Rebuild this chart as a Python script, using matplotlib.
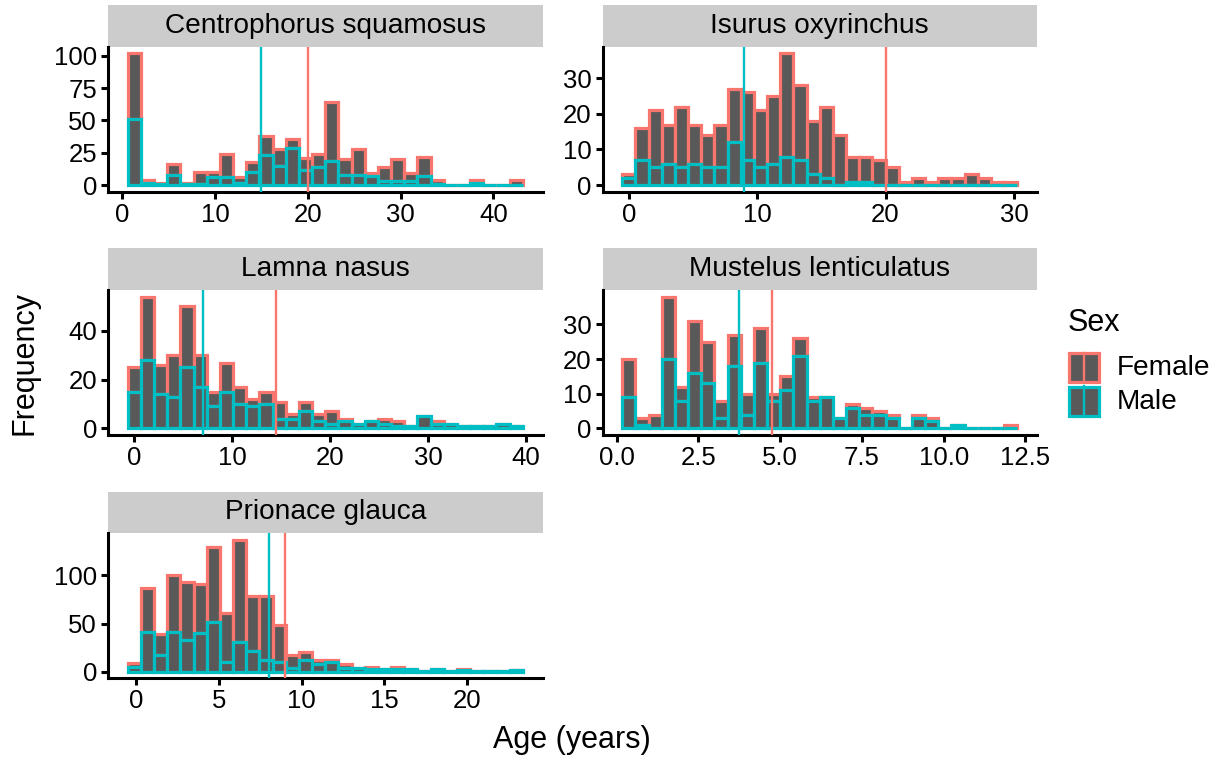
import numpy as np
import matplotlib.pyplot as plt
from matplotlib.patches import Rectangle
from matplotlib.lines import Line2D
from matplotlib.ticker import FixedLocator, FuncFormatter

plt.rcParams['font.family'] = ['Liberation Sans', 'DejaVu Sans']

# per-species age histograms, 30 bins each (counts stacked: male at the bottom)
species = ["Centrophorus squamosus", "Isurus oxyrinchus", "Lamna nasus",
           "Mustelus lenticulatus", "Prionace glauca"]

# centre of the first and last bin (years)
age_first = [1.32, 0.0, 0.0, 0.37, -0.12]
age_last = [42.46, 29.75, 39.0, 12.05, 22.98]

female_counts = [
    [51, 2, 1, 8, 1, 9, 4, 18, 4, 8, 15, 13, 7, 9, 10, 45, 12, 20, 2, 11, 17, 6, 15, 3, 0, 0, 2, 0, 0, 4],
    [1, 9, 16, 11, 17, 11, 9, 12, 15, 19, 16, 19, 29, 21, 15, 20, 14, 7, 7, 7, 5, 1, 2, 1, 2, 2, 3, 2, 1, 1],
    [10, 26, 12, 17, 25, 13, 6, 12, 7, 3, 5, 7, 2, 4, 3, 5, 1, 0, 0, 2, 2, 0, 0, 1, 0, 0, 0, 0, 0, 0],
    [11, 2, 4, 18, 4, 15, 12, 5, 9, 6, 10, 2, 4, 5, 1, 0, 0, 1, 2, 1, 1, 0, 1, 1, 0, 0, 0, 0, 0, 1],
    [4, 46, 22, 60, 60, 51, 78, 51, 106, 57, 67, 39, 13, 9, 4, 2, 4, 0, 2, 0, 2, 0, 0, 0, 0, 1, 0, 0, 0, 0],
]
male_counts = [
    [51, 2, 1, 8, 1, 1, 6, 6, 2, 10, 23, 15, 29, 12, 14, 19, 8, 8, 7, 3, 3, 3, 7, 1, 0, 0, 2, 0, 0, 0],
    [2, 7, 5, 6, 5, 6, 5, 5, 12, 7, 5, 6, 8, 7, 3, 2, 0, 1, 1, 0, 0, 0, 0, 0, 0, 0, 0, 0, 0, 0],
    [15, 28, 14, 13, 25, 17, 9, 15, 10, 9, 10, 4, 4, 7, 3, 2, 3, 2, 3, 2, 1, 1, 5, 2, 2, 1, 1, 1, 2, 1],
    [9, 1, 0, 20, 8, 16, 13, 3, 18, 4, 19, 8, 11, 21, 8, 9, 3, 6, 4, 4, 3, 0, 3, 2, 0, 1, 0, 0, 0, 0],
    [5, 41, 17, 41, 33, 40, 52, 10, 31, 22, 12, 10, 4, 12, 8, 10, 4, 4, 3, 3, 3, 3, 1, 3, 1, 2, 1, 1, 1, 2],
]

female_median = [20, 20, 14.5, 4.75, 9]
male_median = [15, 9, 7, 3.75, 8]

x_ticks = [[0, 10, 20, 30, 40], [0, 10, 20, 30], [0, 10, 20, 30, 40],
           [0, 2.5, 5, 7.5, 10, 12.5], [0, 5, 10, 15, 20]]
y_ticks = [[0, 25, 50, 75, 100], [0, 10, 20, 30], [0, 20, 40],
           [0, 10, 20, 30], [0, 50, 100]]

FEMALE = "#F8766D"
MALE = "#00BFC4"
FILL = "#595959"
STRIP = "#CCCCCC"

W, H = 1214, 758
fig = plt.figure(figsize=(W / 100, H / 100), dpi=100)

col_left = [108, 602.5]
row_top = [46.7, 290, 533.3]
pw, ph, sh = 434.5, 145, 41.7
lw_bar = 2.3
tick_fs = 18.5
strip_fs = 20.2
title_fs = 22


def fmt_tick(ticks):
    if any(t != int(t) for t in ticks):
        return FuncFormatter(lambda v, p: f"{v:.1f}")
    return FuncFormatter(lambda v, p: f"{v:g}")


for i, name in enumerate(species):
    r, c = divmod(i, 2)
    ax = fig.add_axes([col_left[c] / W, 1 - (row_top[r] + ph) / H, pw / W, ph / H])

    fem = np.array(female_counts[i])
    mal = np.array(male_counts[i])
    nb = len(fem)
    width = (age_last[i] - age_first[i]) / (nb - 1)
    centres = age_first[i] + width * np.arange(nb)

    ax.bar(centres, fem, width=width, bottom=mal, color=FILL,
           edgecolor=FEMALE, linewidth=lw_bar, joinstyle='miter', zorder=2)
    ax.bar(centres, mal, width=width, color=FILL,
           edgecolor=MALE, linewidth=lw_bar, joinstyle='miter', zorder=3)

    ax.axvline(female_median[i], color=FEMALE, lw=1.7, zorder=4)
    ax.axvline(male_median[i], color=MALE, lw=1.7, zorder=4)

    lo, hi = centres[0] - width / 2, centres[-1] + width / 2
    pad = 0.05 * (hi - lo)
    ax.set_xlim(lo - pad, hi + pad)
    ymax = (fem + mal).max()
    ax.set_ylim(-0.05 * ymax, 1.05 * ymax)

    ax.xaxis.set_major_locator(FixedLocator(x_ticks[i]))
    ax.xaxis.set_major_formatter(fmt_tick(x_ticks[i]))
    ax.yaxis.set_major_locator(FixedLocator(y_ticks[i]))
    ax.yaxis.set_major_formatter(fmt_tick(y_ticks[i]))

    for s in ("top", "right"):
        ax.spines[s].set_visible(False)
    for s in ("left", "bottom"):
        ax.spines[s].set_linewidth(2.2)
        ax.spines[s].set_color("black")
    ax.tick_params(length=5, width=2.2, color="black", labelcolor="black",
                   labelsize=tick_fs, pad=3)

    # facet strip
    ax.add_patch(Rectangle((0, 1), 1, sh / ph, transform=ax.transAxes,
                           clip_on=False, facecolor=STRIP, edgecolor="none"))
    ax.text(0.5, 1 + sh / ph / 2, name, transform=ax.transAxes,
            ha="center", va="center", fontsize=strip_fs)

# axis titles
fig.text(572 / W, 1 - 740 / H, "Age (years)", ha="center", va="center", fontsize=title_fs)
fig.text(25 / W, 1 - 362.5 / H, "Frequency", ha="center", va="center",
         rotation=90, fontsize=title_fs)


# legend
def px(x, y):
    return x / W, 1 - y / H


fig.text(*px(1067.7, 323.3), "Sex", ha="left", va="center", fontsize=title_fs)
for label, col, y0 in (("Female", FEMALE, 352.5), ("Male", MALE, 386.5)):
    fig.add_artist(Rectangle(px(1069, y0 + 29.5), 30 / W, 29.5 / H,
                             transform=fig.transFigure, facecolor=FILL,
                             edgecolor=col, linewidth=lw_bar, joinstyle='miter'))
    fig.add_artist(Line2D([1084 / W, 1084 / W], [1 - y0 / H, 1 - (y0 + 29.5) / H],
                          transform=fig.transFigure, color=col, lw=1.7))
    fig.text(*px(1117, y0 + 15.5), label, ha="left", va="center", fontsize=strip_fs)

fig.savefig("out.png", dpi=100)
